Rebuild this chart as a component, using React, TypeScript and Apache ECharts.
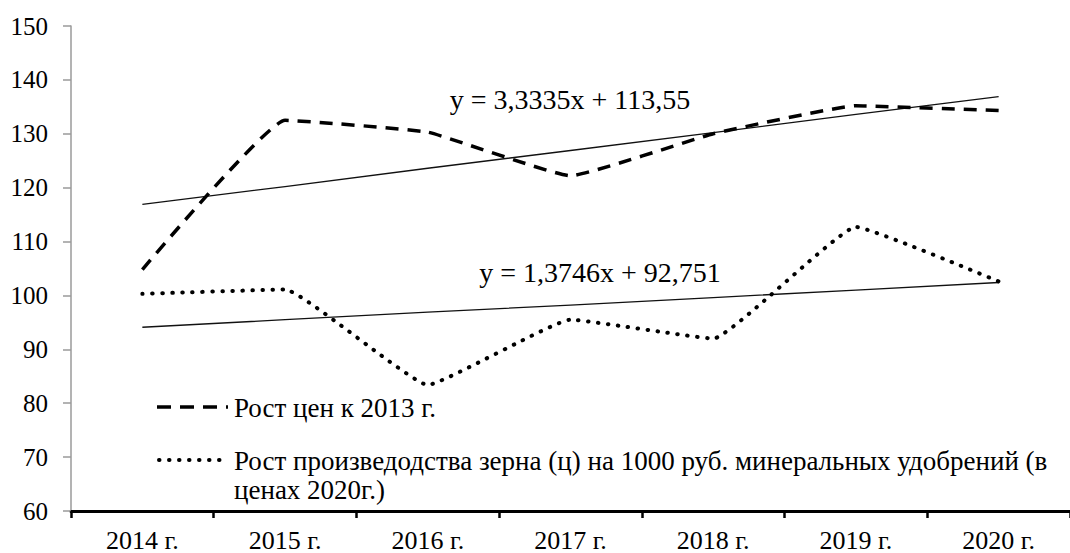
import React, { useEffect, useRef } from "react";
import * as echarts from "echarts";

const categories = ["2014 г.", "2015 г.", "2016 г.", "2017 г.", "2018 г.", "2019 г.", "2020 г."];
const priceGrowth = [104.8, 132.5, 130.3, 122.2, 130.0, 135.2, 134.3];
const grainGrowth = [100.3, 101.1, 83.4, 95.5, 92.0, 112.7, 102.6];
const priceTrend = [116.9, 120.2, 123.6, 126.9, 130.2, 133.6, 136.9];
const grainTrend = [94.1, 95.5, 96.9, 98.2, 99.6, 101.0, 102.4];
const yTicks = { min: 60, max: 150, interval: 10 };
const priceEquation = "y = 3,3335x + 113,55";
const grainEquation = "y = 1,3746x + 92,751";
const priceLabel = "Рост цен к 2013 г.";
const grainLabelLines = [
  "Рост произведодства зерна (ц) на 1000 руб. минеральных удобрений (в",
  "ценах 2020г.)",
];

const FONT = "Liberation Serif";

export default function App() {
  const ref = useRef<HTMLDivElement>(null);
  useEffect(() => {
    document.body.style.margin = "0";
    const chart = echarts.init(ref.current!, null, { renderer: "svg" });
    const dashStyle = { color: "#000", width: 3.5, type: [13, 9] as any, cap: "butt" as any };
    const dotStyle = { color: "#000", width: 4, type: [0.5, 9.5] as any, cap: "round" as any };
    const txt = (size: number) => ({ fontFamily: FONT, fontSize: size, fill: "#000" });
    chart.setOption({
      animation: false,
      backgroundColor: "#fff",
      textStyle: { fontFamily: FONT, color: "#000" },
      grid: { left: 71, top: 26, width: 1005, height: 489, containLabel: false },
      xAxis: {
        type: "category",
        data: categories,
        boundaryGap: true,
        axisLine: { lineStyle: { color: "#000", width: 3 } },
        axisTick: { show: true, length: 7, lineStyle: { color: "#000", width: 2.5 } },
        axisLabel: { fontFamily: FONT, fontSize: 26, color: "#000", margin: 16 },
        splitLine: { show: false },
      },
      yAxis: {
        type: "value",
        min: yTicks.min,
        max: yTicks.max,
        interval: yTicks.interval,
        axisLine: { show: true, lineStyle: { color: "#9a9a9a", width: 1.5 } },
        axisTick: { show: true, length: 8, lineStyle: { color: "#9a9a9a", width: 1.5 } },
        axisLabel: { fontFamily: FONT, fontSize: 25, color: "#000", margin: 23 },
        splitLine: { show: false },
      },
      series: [
        {
          name: priceLabel,
          type: "line",
          data: priceGrowth,
          smooth: 0.1,
          symbol: "none",
          lineStyle: dashStyle,
          z: 3,
        },
        {
          name: grainLabelLines.join(" "),
          type: "line",
          data: grainGrowth,
          smooth: 0.1,
          symbol: "none",
          lineStyle: dotStyle,
          z: 3,
        },
        {
          name: "trend1",
          type: "line",
          data: priceTrend,
          symbol: "none",
          lineStyle: { color: "#111", width: 1.3 },
          z: 2,
        },
        {
          name: "trend2",
          type: "line",
          data: grainTrend,
          symbol: "none",
          lineStyle: { color: "#111", width: 1.3 },
          z: 2,
        },
      ],
      graphic: [
        {
          type: "text",
          x: 570,
          y: 99,
          style: { text: priceEquation, ...txt(28), align: "center", verticalAlign: "middle" },
        },
        {
          type: "text",
          x: 600,
          y: 272,
          style: { text: grainEquation, ...txt(28), align: "center", verticalAlign: "middle" },
        },
        {
          type: "line",
          shape: { x1: 157, y1: 407, x2: 228, y2: 407 },
          style: { stroke: "#000", lineWidth: 3.5, lineDash: [14, 9] },
        },
        {
          type: "text",
          x: 234,
          y: 408,
          style: { text: priceLabel, ...txt(27), align: "left", verticalAlign: "middle" },
        },
        {
          type: "line",
          shape: { x1: 159, y1: 460, x2: 222, y2: 460 },
          style: { stroke: "#000", lineWidth: 4, lineDash: [0.5, 9.5], lineCap: "round" },
        },
        {
          type: "text",
          x: 234,
          y: 461,
          style: { text: grainLabelLines[0], ...txt(27), align: "left", verticalAlign: "middle" },
        },
        {
          type: "text",
          x: 234,
          y: 490,
          style: { text: grainLabelLines[1], ...txt(27), align: "left", verticalAlign: "middle" },
        },
      ],
    });
    return () => chart.dispose();
  }, []);
  return <div ref={ref} style={{ width: 1070, height: 553 }} />;
}
